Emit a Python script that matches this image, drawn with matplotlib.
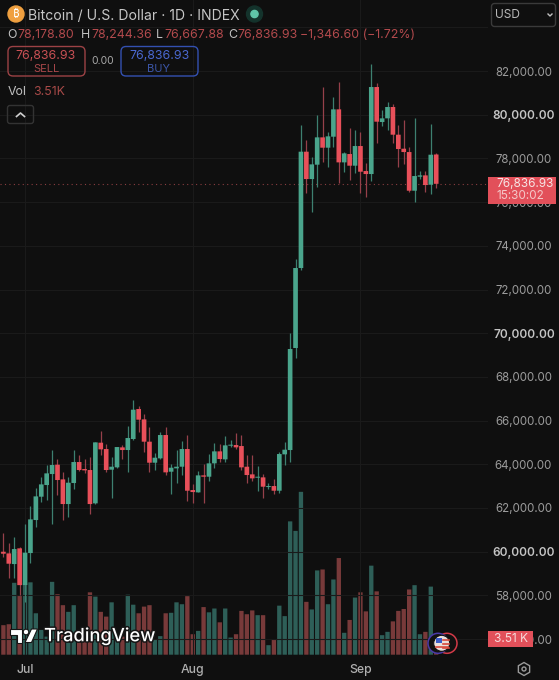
import matplotlib
matplotlib.use("Agg")
import matplotlib.pyplot as plt
from matplotlib.patches import FancyBboxPatch, Circle, Polygon, Rectangle, RegularPolygon
import matplotlib.patheffects as pe

plt.rcParams['font.family'] = ['Inter', 'DejaVu Sans']

opens = [59999,59923,59434,60154,58474,59938,61449,62517,63051,63554,
         63982,63310,62181,63143,64104,63783,63738,62212,64989,64699,
         63753,63860,64775,64653,65157,66530,66057,65035,64073,64272,
         65340,63661,63814,63890,64699,62822,62715,63493,63432,64043,
         64592,64226,64852,64882,64836,63890,63539,63387,63402,62959,
         63005,62791,64455,64653,69322,72983,78307,77055,77712,78963,
         78490,78993,80245,77818,78200,77666,78566,77422,77284,81267,
         79665,79833,80352,79085,78444,78291,76521,77162,77223,76796,78178.80]
highs = [60838,60411,60686,60200,61265,62105,62898,63402,63951,64653,
         64241,63661,63432,64653,64424,64226,64348,65035,65523,64928,
         64317,64806,64882,65752,66942,66683,66301,65721,64501,65493,
         65691,64012,64653,65080,65355,63097,63707,64012,64470,64989,
         64928,65309,65111,65416,65340,64424,64424,63936,63554,63127,
         63310,64546,65004,70022,73395,79512,78841,78047,79985,81282,
         79222,80825,81481,78307,79375,79299,79222,77773,82305,81435,
         80214,80565,80474,79527,79756,78536,79833,77437,77422,79573,78244.36]
lows = [59770,58778,58778,58020,57710,59495,61143,62273,62364,61250,
        62578,61449,61601,62868,63707,63585,61723,62181,64424,63661,
        62471,63814,64226,63661,65111,65493,64577,63661,63738,64240,
        63509,62639,63158,63509,62334,62212,62715,62212,63249,63814,
        64119,64119,64775,64684,63738,63158,63249,62776,62441,62852,
        62624,62669,63967,64118,68864,72900,76399,75560,76674,77849,
        77620,78536,76857,77361,77010,77345,76399,76247,76964,78688,
        79482,79299,78719,77620,77742,76475,76002,77040,76475,76369,76667.88]
closes = [59907,59450,60121,58470,59955,61479,62532,63081,63585,63967,
          63280,62181,63158,64104,63738,63722,62181,65004,64684,63738,
          63890,64790,64653,65203,66500,66042,65035,64073,64302,65340,
          63631,63844,63890,64699,62791,62730,63493,63432,64043,64592,
          64241,64867,64897,64775,63860,63509,63356,63432,62975,63005,
          62791,64470,64668,69276,72983,78307,77055,77727,78963,78490,
          79009,80245,77818,78230,77666,78566,77391,77284,81267,79680,
          79833,80352,79085,78429,78291,76521,77193,77223,76781,78169,76836.93]
volumes = [6.2,6.4,15.1,12.5,15.1,15.2,8.7,5.2,3.8,15.3,
           12.7,10.4,9.0,10.4,3.1,3.8,13.1,12.2,9.0,8.0,
           11.0,3.8,3.8,12.6,10.5,8.7,10.1,10.4,3.1,3.9,
           8.7,8.8,11.0,10.6,12.3,4.3,5.0,10.0,8.9,9.7,
           6.8,9.7,3.6,4.3,9.2,8.5,9.3,8.3,8.3,2.0,
           3.1,10.3,8.1,28.0,26.0,34.2,11.1,9.5,17.7,17.9,
           10.6,15.8,20.3,4.6,7.3,12.0,13.1,9.1,18.7,13.3,
           4.1,4.8,7.0,9.2,9.6,13.7,14.6,4.3,4.8,14.3,3.51]
price_ticks = [84000,82000,80000,78000,76000,74000,72000,70000,68000,66000,
               64000,62000,60000,58000,56000]
bold_ticks = [80000,70000,60000]
month_labels = ['Jul','Aug','Sep']
month_index = [4,35,66]
last_price = 76836.93

BG = '#0f0f0f'; GRID = '#1a1a1a'
GREEN = '#4aa58c'; RED = '#e8505a'
GWICK = '#3d8070'; RWICK = '#96404a'
GVOL = '#2e5f58'; RVOL = '#783a3a'
DIMRED = '#b34a4d'

W, H = 559, 680
fig = plt.figure(figsize=(W/100, H/100), dpi=100, facecolor=BG)

AX_W, AX_H = 488, 654.7
ax = fig.add_axes([0, 1-AX_H/H, AX_W/W, AX_H/H], facecolor=BG)
PX_PER_USD = 0.02185
y_top = 82000 + 71/PX_PER_USD
y_bot = 82000 - (AX_H-71)/PX_PER_USD
SPACING = 5.41
x_left = -3.4/SPACING
x_right = x_left + AX_W/SPACING
ax.set_xlim(x_left, x_right)
ax.set_ylim(y_bot, y_top)
for s in ax.spines.values():
    s.set_visible(False)
ax.set_xticks([]); ax.set_yticks([])

# volume axis, beneath the price axis
vax = fig.add_axes(ax.get_position(), facecolor=BG)
vax.set_xlim(x_left, x_right)
vax.set_ylim(0, AX_H*0.21)
vax.axis('off')
for t in price_ticks:
    ax.axhline(t, color=GRID, lw=0.8, zorder=0)
for m in month_index:
    ax.axvline(m, color=GRID, lw=0.8, zorder=0)
xs = list(range(len(closes)))
is_up = [c >= o for o, c in zip(opens, closes)]
vbars = vax.bar(xs, volumes, width=0.8, color=[GVOL if u else RVOL for u in is_up], zorder=2, lw=0)
for b in vbars:
    b.set_snap(False)

ax.set_zorder(2)
ax.patch.set_visible(False)
vax.set_zorder(1)

# candles
wicks = ax.vlines(xs, lows, highs, colors=[GWICK if u else RWICK for u in is_up], lw=0.9, zorder=3)
bodies = ax.bar(xs, [abs(c-o) for o, c in zip(opens, closes)], bottom=[min(o, c) for o, c in zip(opens, closes)],
                width=0.86, color=[GREEN if u else RED for u in is_up], zorder=4, lw=0)
for b in bodies:
    b.set_snap(False)
ax.axhline(last_price, color='#8a3d40', lw=0.8, ls=(0, (1, 3)), zorder=2)

# overlay in pixel space for the interface furniture
ui = fig.add_axes([0, 0, 1, 1], facecolor='none', zorder=10)
ui.set_xlim(0, W); ui.set_ylim(H, 0); ui.axis('off')

def py(v):
    return 71 + (82000 - v)*PX_PER_USD

def T(x, y, s, **kw):
    kw.setdefault('va', 'center')
    kw.setdefault('zorder', 3)
    return ui.text(x, y + 1.5, s, **kw)

TICK = '#9c9c9c'
for t in price_ticks[1:]:
    b = t in bold_ticks
    T(555 if b else 552, py(t), f'{t:,.2f}', ha='right', fontsize=8.5 if b else 8.3,
      color='#c4c4c4' if b else TICK, fontweight='semibold' if b else 'normal', zorder=1)

for lab, m in zip(month_labels, month_index):
    T(3.4 + SPACING*m, 668.5, lab, ha='center', fontsize=8.8, color='#b0b0b0', fontweight='medium')

# header
ui.add_patch(Circle((16, 14), 8, color='#f0a040'))
T(16, 13, '₿', color='white', fontsize=8, ha='center', family=['Noto Sans', 'Roboto', 'Open Sans', 'Lato', 'Inter', 'DejaVu Sans'])
T(28, 14, 'Bitcoin / U.S. Dollar · 1D · INDEX', color='#c6c6c6', fontsize=10.1)
ui.add_patch(Circle((254.5, 14), 8, color='#14332c'))
ui.add_patch(Circle((254.5, 14), 3.6, color='#5fc4a8'))

ohlc = [(7, 'O', '#c0c0c0'), (17, '78,178.80', DIMRED), (81, 'H', '#c0c0c0'), (91, '78,244.36', DIMRED),
        (156, 'L', '#c0c0c0'), (164, '76,667.88', DIMRED), (228, 'C', '#c0c0c0'), (237, '76,836.93', DIMRED),
        (300, '−1,346.60 (−1.72%)', DIMRED)]
for x, s, c in ohlc:
    T(x, 33.5, s, color=c, fontsize=8.9)

ui.add_patch(FancyBboxPatch((8, 46.5), 77, 29.5, boxstyle='round,pad=0,rounding_size=5', fc='none', ec='#9c4245', lw=1))
T(46, 54.5, '76,836.93', color='#c85054', fontsize=8.9, ha='center')
T(46, 67, 'SELL', color='#a8474a', fontsize=8, ha='center')
T(103, 60, '0.00', color='#a8a8a8', fontsize=7.5, ha='center')
ui.add_patch(FancyBboxPatch((121, 46.5), 77, 29.5, boxstyle='round,pad=0,rounding_size=5', fc='none', ec='#3350b0', lw=1))
T(159, 54.5, '76,836.93', color='#4a68d0', fontsize=8.9, ha='center')
T(159, 67, 'BUY', color='#3c56a8', fontsize=8, ha='center')
T(8, 90.5, 'Vol', color='#c0c0c0', fontsize=8.9)
T(33, 90.5, '3.51K', color='#a84a48', fontsize=8.9)
ui.add_patch(FancyBboxPatch((7.5, 105.5), 26, 18, boxstyle='round,pad=0,rounding_size=2.5', fc='none', ec='#333333', lw=1))
ui.plot([16.5, 20.5, 24.5], [116.5, 113, 116.5], color='#d0d0d0', lw=1.2)

# currency select
ui.add_patch(FancyBboxPatch((491.5, 3.5), 64, 23, boxstyle='round,pad=0,rounding_size=3', fc='none', ec='#3a3a3a', lw=1))
T(495, 14, 'USD', color='#b8b8b8', fontsize=8.6)
ui.plot([548, 550, 552], [14, 16, 14], color='#c0c0c0', lw=1)

# price tag
ui.add_patch(Rectangle((488, 176.5), 68, 27.5, color='#e2505a', lw=0, zorder=2))
T(496, 182.5, '76,836.93', color='#f6e4e4', fontsize=8.5, ha='left')
T(496.5, 194.5, '15:30:02', color='#f4c8c8', fontsize=8.5, ha='left')

# volume tag
ui.add_patch(Rectangle((488, 631), 45, 15.5, color='#e2505a', lw=0, zorder=2))
T(510.5, 637, '3.51 K', color='#f6dcdc', fontsize=8.6, ha='center')

# watermark
shadow = [pe.withStroke(linewidth=2.2, foreground='#151515')]
logo_parts = [
    Polygon([(10, 629), (22, 629), (22, 642.5), (16.5, 642.5), (16.5, 635), (10, 635)], closed=True, fc='white', ec='#151515', lw=0.8),
    Circle((26, 632), 2.8, fc='white', ec='#151515', lw=0.8),
    Polygon([(31.5, 629), (37.5, 629), (31.5, 642.5), (25, 642.5)], closed=True, fc='white', ec='#151515', lw=0.8),
]
for p in logo_parts:
    ui.add_patch(p)
ui.text(44, 636.5, 'TradingView', color='white', fontsize=13.2, fontweight='medium', va='center', path_effects=shadow)

# event flags
ui.add_patch(Circle((447, 643.3), 10, fc='#111111', ec='#d23a48', lw=1.1))
ui.add_patch(Circle((438, 643.3), 10, fc='#111111', ec='#4a3aa8', lw=1.1))
ui.add_patch(Circle((441.7, 643.3), 8, fc='#e9e0dc', ec='#111111', lw=0.8))
ui.add_patch(Rectangle((435.5, 638), 6.5, 5, color='#3a5cc8', lw=0))
for yy in (640, 644, 648):
    ui.plot([442.5, 448.5], [yy, yy], color='#d8483c', lw=1.2)
ui.plot([436, 447.5], [646.5, 646.5], color='#d8483c', lw=1.2)

# settings hexagon
ui.add_patch(RegularPolygon((524, 669), 6, radius=6.5, fc='none', ec='#9a9a9a', lw=1))
ui.add_patch(Circle((524, 669), 2, fc='none', ec='#9a9a9a', lw=1))

fig.savefig('out.png', dpi=100, facecolor=BG)
